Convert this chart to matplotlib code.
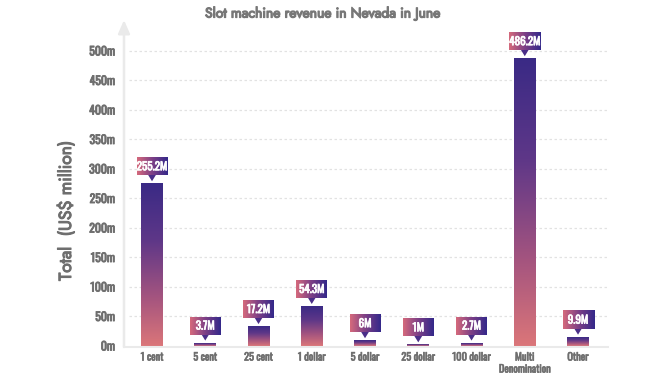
import numpy as np
import matplotlib
matplotlib.use('Agg')
import matplotlib.pyplot as plt
import matplotlib.patheffects as pe
from matplotlib.colors import LinearSegmentedColormap
from matplotlib.patches import Polygon
from matplotlib import font_manager as fm

# ---- data ----
categories = ['1 cent', '5 cent', '25 cent', '1 dollar', '5 dollar', '25 dollar',
              '100 dollar', 'Multi\nDenomination', 'Other']
bar_values = [275, 5, 33, 67, 9, 2, 5, 487, 15]
value_labels = ['255.2M', '3.7M', '17.2M', '54.3M', '6M', '1M', '2.7M', '486.2M', '9.9M']
yticks = [0, 50, 100, 150, 200, 250, 300, 350, 400, 450, 500]
ytick_labels = ['0m', '50m', '100m', '150m', '200m', '250m', '300m', '350m', '400m', '450m', '500m']
title = 'Slot machine revenue in Nevada in June'
ylabel = 'Total  (US$ million)'

# ---- fonts ----
available = {f.name for f in fm.fontManager.ttflist}


def pick(cands):
    for c in cands:
        if c in available:
            return c
    return None


cond = pick(['Oswald', 'Fjalla One', 'Antonio', 'Barlow Condensed', 'Asap Condensed',
             'Archivo Narrow'])
if cond is None:
    COND = dict(family=['DejaVu Sans'], stretch='condensed')
else:
    COND = dict(family=[cond, 'DejaVu Sans'])
geo = pick(['Jost', 'League Spartan', 'Questrial', 'Poppins'])
GEO = dict(family=[geo, 'DejaVu Sans'] if geo else ['DejaVu Sans'])


def heavy(color, w):
    return [pe.withStroke(linewidth=w, foreground=color)]


GREY = '#6E6E6E'

W, H = 670, 380
fig = plt.figure(figsize=(W / 100, H / 100), dpi=100)
ax_l, ax_r, ax_t, ax_b = 124, 608, 20, 347
ax = fig.add_axes([ax_l / W, (H - ax_b) / H, (ax_r - ax_l) / W, (ax_b - ax_t) / H])

x = np.arange(len(categories))
xlim = (-0.526, 8.563)
ylim = (-2.5, 551.7)

bar_cmap = LinearSegmentedColormap.from_list(
    'bar', [(0, '#DB7679'), (0.3, '#A4547F'), (0.65, '#5E3788'), (1, '#3A2A85')])
box_cmap = LinearSegmentedColormap.from_list(
    'box', [(0, '#D66A7C'), (0.5, '#7C3F86'), (1, '#33288A')])

bars = ax.bar(x, bar_values, width=0.41, color='none', edgecolor='none', zorder=2)
grad_v = np.linspace(0, 1, 256).reshape(-1, 1)
for b in bars:
    x0, y0 = b.get_x(), b.get_y()
    im = ax.imshow(grad_v, cmap=bar_cmap, origin='lower', aspect='auto',
                   extent=(x0, x0 + b.get_width(), y0, y0 + b.get_height()),
                   zorder=2, interpolation='bicubic')
    im.set_clip_path(b)

px_x = (xlim[1] - xlim[0]) / (ax_r - ax_l)
px_y = (ylim[1] - ylim[0]) / (ax_b - ax_t)

box_w, box_h, ptr_h, ptr_hw, gap = 31, 18, 6, 4, 2
grad_h = np.linspace(0, 1, 256).reshape(1, -1)
for xi, v, lab in zip(x, bar_values, value_labels):
    tip = v + gap * px_y
    base = tip + ptr_h * px_y
    top = base + box_h * px_y
    ax.add_patch(Polygon([(xi - ptr_hw * px_x, base + 0.5 * px_y),
                          (xi + ptr_hw * px_x, base + 0.5 * px_y),
                          (xi, tip)], closed=True, facecolor='#4A2E88',
                         edgecolor='none', zorder=3))
    ax.imshow(grad_h, cmap=box_cmap, aspect='auto',
              extent=(xi - box_w / 2 * px_x, xi + box_w / 2 * px_x, base, top),
              zorder=3, interpolation='bicubic')
    ax.text(xi, (base + top) / 2, lab, ha='center', va='center', color='white',
            fontsize=8, fontweight='bold', zorder=4,
            path_effects=heavy('white', 0.5), **COND)

ax.set_xlim(*xlim)
ax.set_ylim(*ylim)

for t in yticks[1:]:
    ax.axhline(t, xmin=0.01, xmax=1, color='#E2E2E2', lw=0.9, ls=(0, (2, 2)), zorder=1)

for s in ['top', 'right', 'left']:
    ax.spines[s].set_visible(False)
ax.spines['bottom'].set_color('#EAEAEA')
ax.spines['bottom'].set_linewidth(1.5)

ax.annotate('', xy=(0, 1.0), xytext=(0, 0), xycoords='axes fraction',
            arrowprops=dict(arrowstyle='-|>,head_length=0.8,head_width=0.35',
                            color='#EAEAEA', lw=1.8, shrinkA=0, shrinkB=0))

ax.set_yticks(yticks)
ax.set_yticklabels(ytick_labels)
for lbl in ax.get_yticklabels():
    lbl.set(fontsize=8.5, fontweight='bold', color=GREY,
            path_effects=heavy(GREY, 0.6), **COND)
ax.set_xticks(x)
ax.set_xticklabels(categories, linespacing=1.25)
for lbl in ax.get_xticklabels():
    lbl.set(fontsize=7.5, fontweight='bold', color=GREY,
            path_effects=heavy(GREY, 0.45), **COND)
ax.tick_params(axis='both', length=0)
ax.tick_params(axis='y', pad=6.5)
ax.tick_params(axis='x', pad=4)

fig.text(322 / W, 1 - 13 / H, title, ha='center', va='center', fontsize=10,
         fontweight='bold', color='#777777', path_effects=heavy('#777777', 0.9), **GEO)
fig.text(66 / W, 1 - 211 / H, ylabel, ha='center', va='center', rotation=90,
         fontsize=12.5, fontweight='bold', color=GREY, path_effects=heavy(GREY, 0.8), **GEO)

fig.savefig('out.png', dpi=100)
